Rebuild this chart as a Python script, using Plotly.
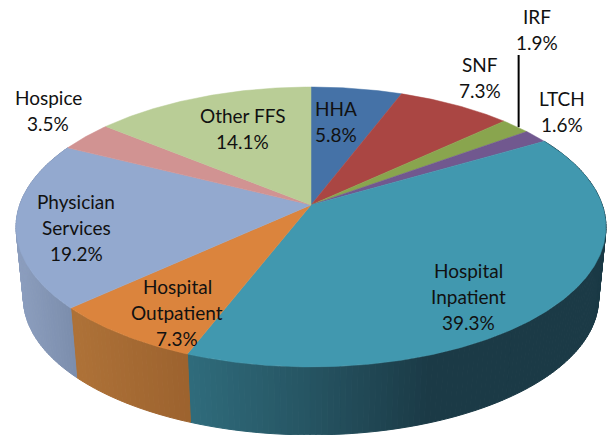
import math
import plotly.graph_objects as go

# ---- data ----
names = ["HHA", "SNF", "IRF", "LTCH", "Hospital<br>Inpatient", "Hospital<br>Outpatient",
         "Physician<br>Services", "Hospice", "Other FFS"]
values = [5.8, 7.3, 1.9, 1.6, 39.3, 7.3, 19.2, 3.5, 14.1]
top_colors = ["#4572a7", "#aa4643", "#89a54e", "#71588f", "#4198af", "#db843d",
              "#93a9cf", "#d19392", "#b9cd96"]

# ---- styling / label placement ----
label_x = [336, 480, 537, 562, 468, 177, 76, 48, 242]
label_y = [121, 77, 29, 111, 296, 312, 227, 110, 128]
LINE_GAP = 26
W, H = 609, 435
CX, CY, RX, RY, K = 311, 205, 291.3, 136.5, 0.157
SCALE_B, SHIFT_B = 0.975, 72
FONT = "Lato"
FONT_SIZE = 19
# side wall shading (x position, rgb)
side_grad = {
    4: [(190, (47, 107, 123)), (305, (38, 85, 99)), (430, (27, 58, 70)), (610, (27, 58, 70))],
    5: [(77, (173, 113, 55)), (190, (156, 98, 46))],
    6: [(15, (140, 158, 190)), (77, (122, 140, 171))],
}


def proj(deg):
    t = math.radians(deg)
    u, v = math.sin(t), -math.cos(t)
    w = 1 - K * v
    return CX + RX * u / w, CY + RY * v / w


def bottom(p):
    return CX + (p[0] - CX) * SCALE_B, CY + (p[1] - CY) * SCALE_B + SHIFT_B


def shade(i, x):
    st = side_grad[i]
    if x <= st[0][0]:
        return st[0][1]
    for (a, ca), (b, cb) in zip(st, st[1:]):
        if x <= b:
            f = (x - a) / (b - a)
            return tuple(ca[j] + (cb[j] - ca[j]) * f for j in range(3))
    return st[-1][1]


total = sum(values)
bounds = [0]
for val in values:
    bounds.append(bounds[-1] + val / total * 360)

fig = go.Figure()

# side wall strips
for i in (4, 5, 6):
    a0, a1 = bounds[i], bounds[i + 1]
    n = max(2, int((a1 - a0) / 1.0))
    for s in range(n):
        t0 = a0 + (a1 - a0) * s / n
        t1 = a0 + (a1 - a0) * (s + 1) / n
        p0, p1 = proj(t0), proj(t1)
        q0, q1 = bottom(p0), bottom(p1)
        r, g, b = shade(i, (p0[0] + p1[0]) / 2)
        c = f"rgb({r:.0f},{g:.0f},{b:.0f})"
        fig.add_trace(go.Scatter(
            x=[p0[0], p1[0], q1[0], q0[0], p0[0]],
            y=[p0[1], p1[1], q1[1], q0[1], p0[1]],
            mode="lines", fill="toself", fillcolor=c,
            line=dict(color=c, width=1), hoverinfo="skip", showlegend=False))

# top face wedges
for i, val in enumerate(values):
    a0, a1 = bounds[i], bounds[i + 1]
    n = max(8, int(a1 - a0) * 2)
    pts = [proj(a0 + (a1 - a0) * s / n) for s in range(n + 1)]
    xs = [CX] + [p[0] for p in pts] + [CX]
    ys = [CY] + [p[1] for p in pts] + [CY]
    fig.add_trace(go.Scatter(
        x=xs, y=ys, mode="lines", fill="toself", fillcolor=top_colors[i],
        line=dict(color=top_colors[i], width=0.5), name=names[i].replace("<br>", " "),
        hoverinfo="name", showlegend=False))

# leader line for IRF
irf = proj((bounds[2] + bounds[3]) / 2)
fig.add_trace(go.Scatter(x=[irf[0] + 3, irf[0] + 3], y=[irf[1] + 1, 55], mode="lines",
                         line=dict(color="black", width=2), hoverinfo="skip", showlegend=False))

for i, val in enumerate(values):
    lines = names[i].split("<br>") + [f"{val}%"]
    top = label_y[i] - LINE_GAP * (len(lines) - 1) / 2
    for j, line in enumerate(lines):
        fig.add_annotation(x=label_x[i], y=top + j * LINE_GAP, text=line,
                           showarrow=False, xanchor="center", yanchor="middle",
                           font=dict(family=FONT, size=FONT_SIZE, color="#111111"))

fig.update_layout(
    width=W, height=H, autosize=False, margin=dict(l=0, r=0, t=0, b=0),
    paper_bgcolor="white", plot_bgcolor="white",
    xaxis=dict(range=[0, W], visible=False, fixedrange=True),
    yaxis=dict(range=[H, 0], visible=False, fixedrange=True),
)
fig.write_html("out.html", config={"displayModeBar": False},
               post_script="document.body.style.margin='0';document.body.style.overflow='hidden';")
